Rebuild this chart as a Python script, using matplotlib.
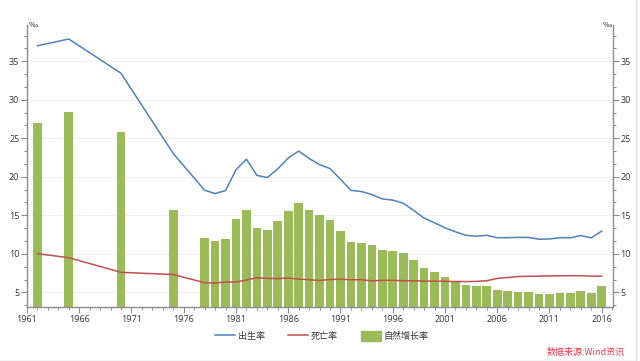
import matplotlib
matplotlib.use("Agg")
import matplotlib.pyplot as plt
from matplotlib.ticker import MultipleLocator
from matplotlib.lines import Line2D

years = [1962, 1965, 1970, 1975, 1978, 1979, 1980, 1981, 1982, 1983, 1984, 1985,
         1986, 1987, 1988, 1989, 1990, 1991, 1992, 1993, 1994, 1995, 1996, 1997,
         1998, 1999, 2000, 2001, 2002, 2003, 2004, 2005, 2006, 2007, 2008, 2009,
         2010, 2011, 2012, 2013, 2014, 2015, 2016]
birth_rate = [37.01, 37.88, 33.43, 23.01, 18.25, 17.82, 18.21, 20.91, 22.28, 20.19,
              19.90, 21.04, 22.43, 23.33, 22.37, 21.58, 21.06, 19.68, 18.24, 18.09,
              17.70, 17.12, 16.98, 16.57, 15.64, 14.64, 14.03, 13.38, 12.86, 12.41,
              12.29, 12.40, 12.09, 12.10, 12.14, 12.13, 11.90, 11.93, 12.10, 12.08,
              12.37, 12.07, 12.95]
death_rate = [10.02, 9.50, 7.60, 7.32, 6.25, 6.21, 6.34, 6.36, 6.60, 6.90, 6.82, 6.78,
              6.86, 6.72, 6.64, 6.54, 6.67, 6.70, 6.64, 6.64, 6.49, 6.57, 6.56, 6.51,
              6.50, 6.46, 6.45, 6.43, 6.41, 6.40, 6.42, 6.51, 6.81, 6.93, 7.06, 7.08,
              7.11, 7.14, 7.15, 7.16, 7.16, 7.11, 7.09]
growth_rate = [26.99, 28.38, 25.83, 15.69, 12.00, 11.61, 11.87, 14.55, 15.68, 13.29,
               13.08, 14.26, 15.57, 16.61, 15.73, 15.04, 14.39, 12.98, 11.60, 11.45,
               11.21, 10.55, 10.42, 10.06, 9.14, 8.18, 7.58, 6.95, 6.45, 6.01, 5.87,
               5.89, 5.28, 5.17, 5.08, 5.05, 4.79, 4.79, 4.95, 4.92, 5.21, 4.96, 5.86]
xtick_years = [1961, 1966, 1971, 1976, 1981, 1986, 1991, 1996, 2001, 2006, 2011, 2016]
ytick_vals = [5, 10, 15, 20, 25, 30, 35]
series_names = ["出生率", "死亡率", "自然增长率"]
source_text = "数据来源:Wind资讯"

plt.rcParams['font.family'] = ['Open Sans', 'Noto Sans CJK SC', 'DejaVu Sans']

fig = plt.figure(figsize=(6.4, 3.61), dpi=100)
ax = fig.add_axes([27/640, 1-307/361, (612.7-27)/640, (307-25)/361])

c_blue = "#4F81BD"
c_red = "#C0504D"
c_green = "#9BBB59"
axis_gray = "#8c8c8c"

ax.bar(years, growth_rate, width=0.83, color=c_green, zorder=2, label=series_names[2])
ax.plot(years, birth_rate, color=c_blue, lw=1.1, zorder=3, label=series_names[0])
ax.plot(years, death_rate, color=c_red, lw=1.1, zorder=3, label=series_names[1])

ax.set_xlim(1961, 2017.05)
ax.set_ylim(3.1, 39.7)
ax.set_xticks(xtick_years)
ax.set_xticklabels([str(y) for y in xtick_years])
ax.xaxis.set_minor_locator(MultipleLocator(1))
ax.set_yticks(ytick_vals)
ax.yaxis.set_minor_locator(MultipleLocator(5/3))
ax.grid(axis='y', which='major', color="#f0f0f0", lw=0.8, zorder=0)

for s in ['top']:
    ax.spines[s].set_visible(False)
for s in ['left', 'right', 'bottom']:
    ax.spines[s].set_color(axis_gray)
    ax.spines[s].set_linewidth(1.0)

ax.tick_params(axis='both', which='major', direction='out', length=4, width=0.8,
               color=axis_gray, labelsize=6.5, labelcolor="#333333", pad=1.5)
ax.tick_params(axis='both', which='minor', direction='out', length=2.5, width=0.7,
               color=axis_gray)
ax.tick_params(axis='y', which='both', left=True, right=True, labelleft=True,
               labelright=True)
# right side ticks outward: make right-side ticks point out as well
for t in ax.yaxis.get_major_ticks() + ax.yaxis.get_minor_ticks():
    t.tick2line.set_marker(matplotlib.lines.TICKRIGHT)

ax.text(0.002, 1.0, "‰", transform=ax.transAxes, fontsize=5, ha='left', va='center',
        family=['DejaVu Sans'], color="#333333")
ax.text(0.998, 1.0, "‰", transform=ax.transAxes, fontsize=5, ha='right', va='center',
        family=['DejaVu Sans'], color="#333333")

handles = [Line2D([], [], color=c_blue, lw=1.1),
           Line2D([], [], color=c_red, lw=1.1),
           matplotlib.patches.Patch(color=c_green)]
leg = fig.legend(handles, series_names, loc='center', bbox_to_anchor=(322/640, 1-336/361),
                 ncol=3, frameon=False, fontsize=6.5, handlelength=2.2, handleheight=1.4,
                 columnspacing=2.6, handletextpad=0.3,
                 prop={'family': ['Noto Sans CJK SC', 'DejaVu Sans'], 'size': 6.5})
for t in leg.get_texts():
    t.set_color("#333333")

fig.text(625/640, 1-352/361, source_text, ha='right', va='center', fontsize=6.5,
         color="#e8384f", style='italic', family=['Noto Sans CJK SC', 'DejaVu Sans'])

# figure frame lines (bottom and right)
fig.add_artist(Line2D([0, 636/640], [0.5/361, 0.5/361], transform=fig.transFigure,
                      color="#c8c8c8", lw=1.0))
fig.add_artist(Line2D([636/640, 636/640], [0, 1], transform=fig.transFigure,
                      color="#e0e0e0", lw=1.0))

fig.savefig("out.png", dpi=100)
